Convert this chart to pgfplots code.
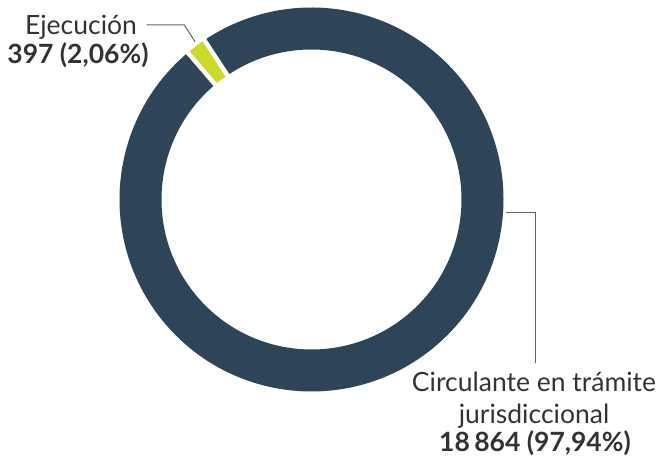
\documentclass[border=0pt]{standalone}
\usepackage{pgfplots}
\pgfplotsset{compat=1.18}
\usepackage{pgfplotstable}
\usepackage{fontspec}
\setmainfont{Lato}
\usetikzlibrary{calc}
\definecolor{darkc}{HTML}{2E4559}
\definecolor{greenc}{HTML}{C9DA2A}
\definecolor{txtc}{HTML}{333333}
\definecolor{leadc}{HTML}{666666}

\pgfplotstableread{
label value
Ejecucion 397
Circulante 18864
}\datatable
\pgfplotstablegetelem{0}{value}\of\datatable \let\vE\pgfplotsretval
\pgfplotstablegetelem{1}{value}\of\datatable \let\vC\pgfplotsretval
\pgfkeys{/pgf/fpu=true,/pgf/fpu/output format=fixed}
\pgfmathsetmacro\spanE{360*\vE/(\vE+\vC)}
\pgfkeys{/pgf/fpu=false}
\pgfmathsetmacro\bA{123.3}
\pgfmathsetmacro\bB{\bA+\spanE}
\pgfmathsetmacro\bEnd{\bA+360}

\begin{document}
\begin{tikzpicture}
\begin{axis}[x=1bp, y=1bp, xmin=0, xmax=664, ymin=0, ymax=456,
  hide axis, clip=false, axis line style={draw=none}]
\coordinate (ll) at (axis cs:0,0);
\coordinate (ur) at (axis cs:664,456);
\coordinate (c) at (axis cs:311.5,256.5);
% ring segments from data
\draw[line width=42bp, color=darkc] ($(c)+(\bB:171bp)$) arc[start angle=\bB, end angle=\bEnd, radius=171bp];
\draw[line width=42bp, color=greenc] ($(c)+(\bA:171bp)$) arc[start angle=\bA, end angle=\bB, radius=171bp];
% white separators
\draw[white, line width=4.2bp] ($(c)+(\bA:145bp)+(\bA+90:2.1bp)$) -- ($(c)+(\bA:197bp)+(\bA+90:2.1bp)$);
\draw[white, line width=4.2bp] ($(c)+(\bB:145bp)+(\bB-90:2.1bp)$) -- ($(c)+(\bB:197bp)+(\bB-90:2.1bp)$);
% leader lines
\draw[leadc, line width=1bp] (axis cs:146.7,431) -- (axis cs:184.3,431) -- (axis cs:195,414.3);
\draw[leadc, line width=1bp] (axis cs:506,243.3) -- (axis cs:535,243.3) -- (axis cs:535,93.3);
% labels
\node[anchor=base, inner sep=0pt, text=txtc, font=\fontsize{26.5bp}{30bp}\selectfont] at (axis cs:81,421.7) {Ejecución};
\node[anchor=base, inner sep=0pt, text=txtc, font=\fontsize{26.5bp}{30bp}\selectfont\bfseries] at (axis cs:78,392.5) {397 (2,06\%)};
\node[anchor=base, inner sep=0pt, text=txtc, font=\fontsize{26.5bp}{30bp}\selectfont] at (axis cs:534,64.3) {Circulante en trámite};
\node[anchor=base, inner sep=0pt, text=txtc, font=\fontsize{26.5bp}{30bp}\selectfont] at (axis cs:534,32.5) {jurisdiccional};
\node[anchor=base, inner sep=0pt, text=txtc, font=\fontsize{26.5bp}{30bp}\selectfont\bfseries] at (axis cs:535,4.8) {18\,864 (97,94\%)};
\end{axis}
\pgfresetboundingbox
\path[use as bounding box] (ll) rectangle (ur);
\end{tikzpicture}
\end{document}
